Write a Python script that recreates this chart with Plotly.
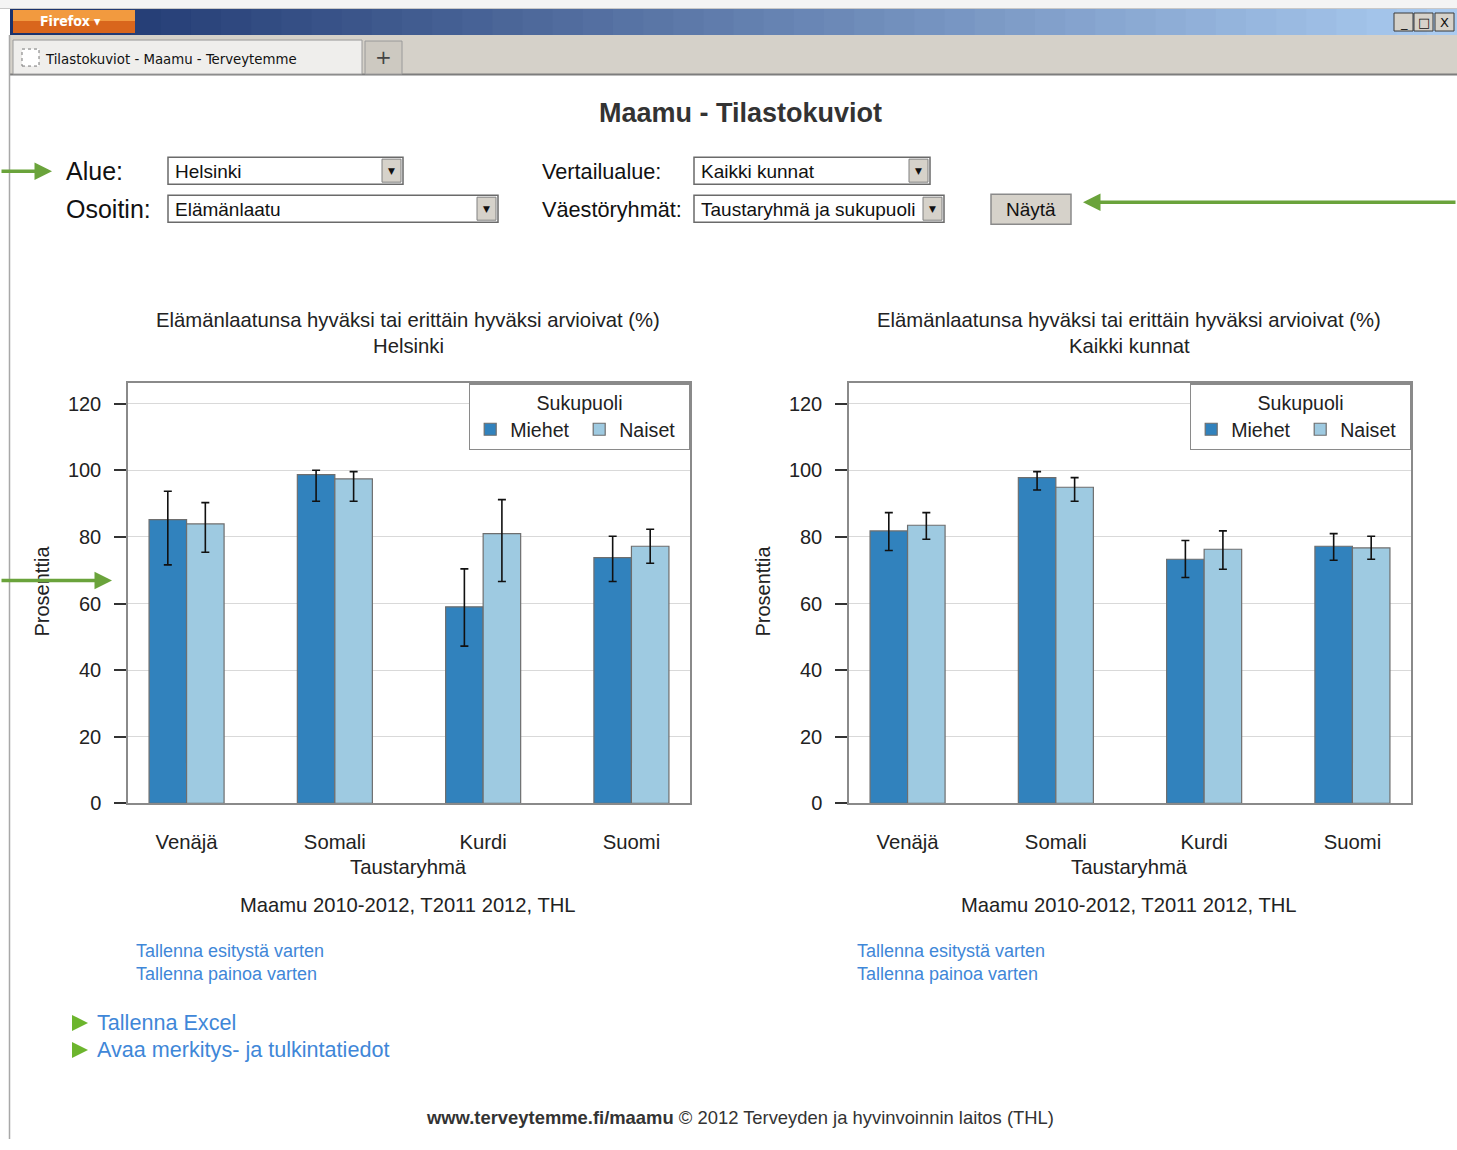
import plotly.graph_objects as go

# ---------------- DATA ----------------
categories = ["Venäjä", "Somali", "Kurdi", "Suomi"]
y_ticks = [0, 20, 40, 60, 80, 100, 120]

# Helsinki (%), with confidence limits
hki_miehet = [85.2, 98.7, 59.0, 73.8]
hki_miehet_hi = [93.7, 100.0, 70.4, 80.2]
hki_miehet_lo = [71.6, 90.7, 47.2, 66.6]
hki_naiset = [83.9, 97.4, 81.0, 77.2]
hki_naiset_hi = [90.3, 99.6, 91.2, 82.3]
hki_naiset_lo = [75.4, 90.7, 66.6, 72.1]

# Kaikki kunnat (%), with confidence limits
kk_miehet = [81.8, 97.8, 73.3, 77.2]
kk_miehet_hi = [87.3, 99.6, 78.9, 81.0]
kk_miehet_lo = [75.9, 94.1, 67.8, 73.0]
kk_naiset = [83.5, 94.9, 76.3, 76.7]
kk_naiset_hi = [87.3, 97.8, 81.8, 80.2]
kk_naiset_lo = [79.3, 90.7, 70.3, 73.3]

chart_title = "Elämänlaatunsa hyväksi tai erittäin hyväksi arvioivat (%)"
areas = ["Helsinki", "Kaikki kunnat"]
source_text = "Maamu 2010-2012, T2011 2012, THL"

# ---------------- HELPERS ----------------
W, H = 1457, 1150
HMAP = 1138  # vertical mapping height for page-pixel placement
FONT = "Liberation Sans, Arial, sans-serif"
C_M = "#3182bd"
C_N = "#9ecae1"


def X(p):
    return p / W


def Y(p):
    return max(0.0, 1 - p / HMAP)


shapes = []
annotations = []


def rect(x0, y0, x1, y1, fill, line=None, lw=1, dash=None):
    ln = dict(color=line if line else fill, width=lw if line else 0)
    if dash:
        ln["dash"] = dash
    shapes.append(dict(type="rect", xref="paper", yref="paper",
                       x0=X(x0), x1=X(x1), y0=Y(y1), y1=Y(y0),
                       fillcolor=fill, line=ln, layer="below"))


def hline(x0, x1, y, color, lw=1):
    shapes.append(dict(type="line", xref="paper", yref="paper",
                       x0=X(x0), x1=X(x1), y0=Y(y), y1=Y(y),
                       line=dict(color=color, width=lw), layer="below"))


def vline(x, y0, y1, color, lw=1):
    shapes.append(dict(type="line", xref="paper", yref="paper",
                       x0=X(x), x1=X(x), y0=Y(y0), y1=Y(y1),
                       line=dict(color=color, width=lw), layer="below"))


def txt(x, y, s, size, color="#222", xanchor="left", family=FONT, angle=0):
    annotations.append(dict(xref="paper", yref="paper", x=X(x), y=Y(y), text=s,
                            showarrow=False, xanchor=xanchor, yanchor="middle",
                            textangle=angle,
                            font=dict(size=size, color=color, family=family)))


def arrow(xh, yh, dx):
    annotations.append(dict(xref="paper", yref="paper", x=X(xh), y=Y(yh),
                            ax=dx, ay=0, axref="pixel", ayref="pixel", text="",
                            showarrow=True, arrowhead=2, arrowsize=1.0,
                            arrowwidth=3.5, arrowcolor="#6aa33b", standoff=0))


def hex2rgb(h):
    h = h.lstrip("#")
    return [int(h[i:i + 2], 16) for i in (0, 2, 4)]


# ---------------- BROWSER CHROME ----------------
rect(0, 0, W, 9, "#f4f4f4")
hline(0, W, 8.5, "#c8c8c8", 1)
c0, c1 = hex2rgb("#1a326c"), hex2rgb("#aacbf0")
n = 48
x_start, x_end = 10, W
for i in range(n):
    t = i / (n - 1)
    col = "rgb(%d,%d,%d)" % tuple(int(c0[k] + (c1[k] - c0[k]) * t) for k in range(3))
    xa = x_start + (x_end - x_start) * i / n
    xb = x_start + (x_end - x_start) * (i + 1) / n + 1
    rect(xa, 9, xb, 35, col)
rect(13, 10, 135, 21, "#f29a3f")
rect(13, 21, 135, 33, "#d9661c")
txt(38, 21, "<b>Firefox</b> ▾", 14, "white", family="DejaVu Sans Condensed, Liberation Sans")
for bx, sym in [(1394, "_"), (1414, "□"), (1435, "X")]:
    rect(bx, 13, bx + 19, 31, "#d6d2ca", "#3a3a3a", 1)
    txt(bx + 9.5, 22, sym, 13, "#111", xanchor="center", family="DejaVu Sans")
rect(10, 35, W, 75, "#d5d1c9")
hline(10, W, 74.5, "#7d7d7d", 2)
rect(13, 40, 362, 74, "#efeeec", "#9a9a9a", 1)
rect(22, 49, 39, 66, "#ffffff", "#777777", 1, dash="dot")
txt(43, 58, "Tilastokuviot - Maamu - Terveytemme", 14.8, "#111",
    family="DejaVu Sans Condensed, Liberation Sans Narrow, sans-serif")
rect(365, 41, 402, 74, "#cdc9c1", "#9a9a9a", 1)
txt(383.5, 57, "+", 20, "#444", xanchor="center", family="DejaVu Sans")
vline(9.5, 35, 1160, "#a8a8a8", 1.5)

# ---------------- PAGE HEADER / FORM ----------------
txt(740, 113, "<b>Maamu - Tilastokuviot</b>", 27, "#333", xanchor="center")
txt(64, 171, "Alue:", 25, "#111")
txt(64, 209, "Osoitin:", 25, "#111")
txt(540, 171, "Vertailualue:", 21.7, "#111")
txt(540, 209, "Väestöryhmät:", 21.7, "#111")

dropdowns = [(168, 157, 403, 184, "Helsinki"),
             (168, 195, 498, 222, "Elämänlaatu"),
             (694, 157, 930, 184, "Kaikki kunnat"),
             (694, 195, 944, 222, "Taustaryhmä ja sukupuoli")]
for x0, y0, x1, y1, label in dropdowns:
    rect(x0, y0, x1, y1, "#ffffff", "#6a6a6a", 1.5)
    rect(x1 - 21, y0 + 2, x1 - 2, y1 - 2, "#d6d2ca", "#808080", 1)
    txt(x1 - 11.5, (y0 + y1) / 2, "▼", 9, "#111", xanchor="center", family="DejaVu Sans")
    txt(x0 + 5, (y0 + y1) / 2 + 1, label, 19, "#111")
rect(991, 194, 1071, 224, "#d6d2ca", "#8a8a8a", 1.5)
txt(1031, 209, "Näytä", 19, "#111", xanchor="center")

arrow(52, 171, -52)
arrow(1083, 202, 374)

# ---------------- CHART TEXTS ----------------
for cx, area in zip([408, 1129], areas):
    txt(cx, 320, chart_title, 20.3, "#222", xanchor="center")
    txt(cx, 346, area, 20.3, "#222", xanchor="center")
    txt(cx, 866, "Taustaryhmä", 20.3, "#222", xanchor="center")
    txt(cx, 904, source_text, 20.2, "#222", xanchor="center")
for lx in [42, 763]:
    txt(lx, 591, "Prosenttia", 20, "#222", xanchor="center", angle=-90)

for lx in [134, 855]:
    txt(lx, 950, "Tallenna esitystä varten", 18, "#3f87d8")
    txt(lx, 973, "Tallenna painoa varten", 18, "#3f87d8")
for ty, s in [(1022, "Tallenna Excel"), (1049, "Avaa merkitys- ja tulkintatiedot")]:
    shapes.append(dict(type="path", xref="paper", yref="paper",
                       path="M %f,%f L %f,%f L %f,%f Z" % (X(72), Y(ty - 8), X(72), Y(ty + 8), X(88), Y(ty)),
                       fillcolor="#6cb52d", line=dict(width=0), layer="below"))
    txt(95, ty, s, 21.6, "#3f87d8")

txt(740, 1117, "<b>www.terveytemme.fi/maamu</b> © 2012 Terveyden ja hyvinvoinnin laitos (THL)",
    18.4, "#333", xanchor="center")

arrow(112, 580, -112)

# ---------------- BARS ----------------
fig = go.Figure()
panels = [
    ("x", "y", "legend", hki_miehet, hki_miehet_hi, hki_miehet_lo, hki_naiset, hki_naiset_hi, hki_naiset_lo),
    ("x2", "y2", "legend2", kk_miehet, kk_miehet_hi, kk_miehet_lo, kk_naiset, kk_naiset_hi, kk_naiset_lo),
]
for xa, ya, lg, m, mhi, mlo, nv, nhi, nlo in panels:
    for name, vals, hi, lo, col in [("Miehet", m, mhi, mlo, C_M), ("Naiset", nv, nhi, nlo, C_N)]:
        fig.add_trace(go.Bar(
            x=categories, y=vals, name=name, xaxis=xa, yaxis=ya, legend=lg,
            marker=dict(color=col, line=dict(color="#6e6e6e", width=1.2)),
            error_y=dict(type="data", symmetric=False,
                         array=[h - v for h, v in zip(hi, vals)],
                         arrayminus=[v - l for v, l in zip(vals, lo)],
                         color="#111", thickness=1.6, width=4),
            hoverinfo="skip"))

ydom = [Y(802.7), Y(383)]
axis_common_x = dict(type="category", range=[-0.395, 3.395], showline=True, mirror=True,
                     linecolor="#8a8a8a", linewidth=1.5, ticks="", showgrid=False,
                     zeroline=False, tickfont=dict(size=20.3, color="#222", family=FONT),
                     ticklabelstandoff=19)
axis_common_y = dict(range=[0, 126.1], tickmode="array", tickvals=y_ticks, ticks="outside",
                     ticklen=12, tickwidth=1.5, tickcolor="#333", showline=True, mirror=True,
                     linecolor="#8a8a8a", linewidth=1.5, showgrid=True, gridcolor="#d9d9d9",
                     gridwidth=1.2, zeroline=False, domain=ydom,
                     tickfont=dict(size=20, color="#222", family=FONT), ticklabelstandoff=9)

legend_common = dict(orientation="h", xanchor="right", yanchor="top", y=Y(383),
                     title=dict(text="Sukupuoli", side="top center",
                                font=dict(size=19.6, color="#222", family=FONT)),
                     bordercolor="#8a8a8a", borderwidth=1.2, bgcolor="white",
                     font=dict(size=19.6, color="#222", family=FONT), traceorder="normal",
                     entrywidth=64, entrywidthmode="pixels",
                     itemclick=False, itemdoubleclick=False)

fig.update_layout(
    width=W, height=H, margin=dict(l=0, r=0, t=0, b=0),
    paper_bgcolor="white", plot_bgcolor="white",
    barmode="group", bargap=0.494, bargroupgap=0,
    font=dict(family=FONT, color="#222"),
    xaxis=dict(domain=[X(128), X(690)], anchor="y", **axis_common_x),
    yaxis=dict(anchor="x", **axis_common_y),
    xaxis2=dict(domain=[X(849), X(1411)], anchor="y2", **axis_common_x),
    yaxis2=dict(anchor="x2", **axis_common_y),
    legend=dict(x=X(690), **legend_common),
    legend2=dict(x=X(1411), **legend_common),
    shapes=shapes, annotations=annotations,
    showlegend=True,
)

post = """
document.documentElement.style.margin='0';
document.body.style.margin='0';
document.body.style.overflow='hidden';
document.documentElement.style.overflow='hidden';
"""
fig.write_html("out.html", config={"displayModeBar": False}, post_script=post)
